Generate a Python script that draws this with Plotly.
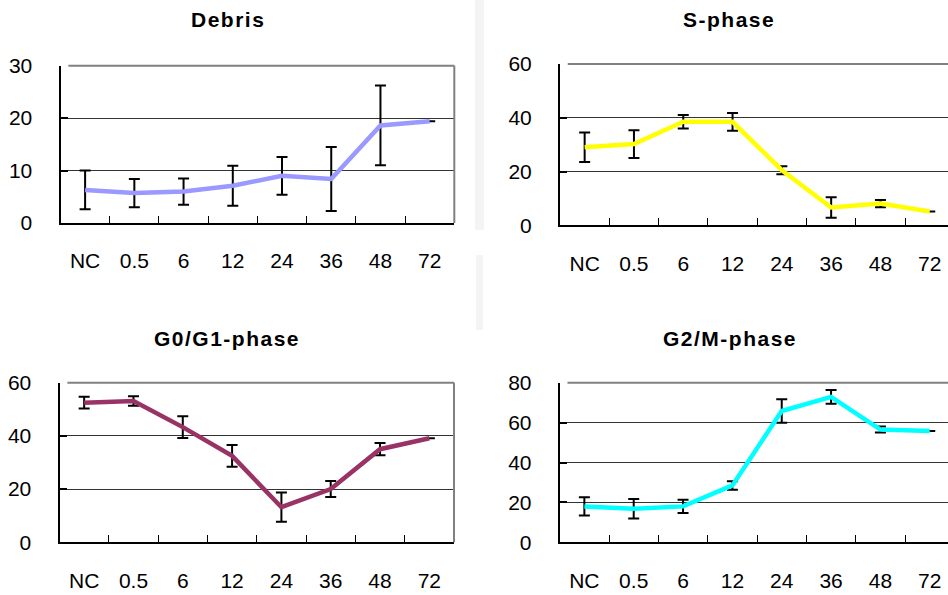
import plotly.graph_objects as go

# Time points (h) and mean percentages with standard deviations per phase
time_labels = ["NC", "0.5", "6", "12", "24", "36", "48", "72"]

debris_mean = [6.3, 5.7, 6.0, 7.1, 9.0, 8.4, 18.6, 19.4]
debris_sd = [3.7, 2.7, 2.5, 3.8, 3.6, 6.1, 7.6, None]

s_mean = [29.0, 30.2, 38.5, 38.5, 20.5, 6.6, 8.1, 5.1]
s_sd = [5.5, 5.2, 2.5, 3.3, 1.5, 3.8, 1.35, None]

g1_mean = [52.5, 53.1, 43.3, 32.5, 13.2, 20.0, 35.0, 39.1]
g1_sd = [2.2, 1.8, 4.1, 4.1, 5.5, 3.0, 2.3, None]

g2_mean = [18.0, 16.8, 18.0, 28.5, 65.8, 72.9, 56.5, 55.8]
g2_sd = [4.6, 4.9, 3.3, 2.1, 5.9, 3.5, 1.5, None]

W, H = 948, 595
FONT = "Liberation Sans, Arial, sans-serif"

panels = [
    # name, mean, sd, color, y max, dtick, x domain px, y domain px (top, bottom), title pos, x max
    ("Debris", debris_mean, debris_sd, "#9999FF", 30, 10, (60.5, 454.3), (65.7, 223.0), (228, 20), 7.5),
    ("S-phase", s_mean, s_sd, "#FFFF00", 60, 20, (560.0, 948.0), (64.0, 225.3), (729, 20), 7.37),
    ("G0/G1-phase", g1_mean, g1_sd, "#993366", 60, 20, (59.5, 454.0), (382.7, 542.3), (227, 338), 7.5),
    ("G2/M-phase", g2_mean, g2_sd, "#00FFFF", 80, 20, (559.7, 948.0), (382.7, 542.3), (730, 338), 7.37),
]

fig = go.Figure()
xs = list(range(len(time_labels)))
shapes = []
annotations = []

for i, (name, mean, sd, color, ymax, dtick, xd, yd, tpos, xmax) in enumerate(panels, start=1):
    xa = "x" if i == 1 else f"x{i}"
    ya = "y" if i == 1 else f"y{i}"
    fig.add_trace(go.Scatter(
        x=xs, y=mean, mode="lines",
        line=dict(color=color, width=4.5),
        error_y=dict(type="data", array=sd, visible=True,
                     color="black", thickness=2, width=5.5),
        xaxis=xa, yaxis=ya, showlegend=False, hoverinfo="skip",
    ))
    xkey = "xaxis" if i == 1 else f"xaxis{i}"
    ykey = "yaxis" if i == 1 else f"yaxis{i}"
    fig.update_layout(**{
        xkey: dict(
            domain=[xd[0] / W, xd[1] / W],
            anchor=ya, range=[-0.5, xmax], automargin=False,
            tickmode="array", tickvals=xs, ticktext=time_labels,
            ticks="", showgrid=False, zeroline=False,
            showline=True, linecolor="black", linewidth=2,
            tickfont=dict(family=FONT, size=21, color="black"),
            ticklabelstandoff=18,
            minor=dict(tickvals=[k + 0.5 for k in range(len(time_labels) - 1)],
                       ticks="inside", ticklen=7, tickcolor="black",
                       tickwidth=1, showgrid=False),
        ),
        ykey: dict(
            domain=[1 - yd[1] / H, 1 - yd[0] / H],
            anchor=xa, range=[0, ymax], dtick=dtick, automargin=False,
            ticks="inside", ticklen=7, tickcolor="black", tickwidth=2,
            showgrid=True, gridcolor="#333333", gridwidth=1,
            zeroline=False, showline=True, linecolor="black", linewidth=2,
            tickfont=dict(family=FONT, size=21, color="black"),
            ticklabelstandoff=22,
        ),
    })
    # grey frame on the top (and right, when visible) of the plot area
    shapes.append(dict(type="line", xref=f"{xa} domain", yref=f"{ya} domain",
                       x0=0.02, x1=1, y0=1, y1=1, layer="above",
                       line=dict(color="#808080", width=2)))
    if xmax >= 7.5:
        shapes.append(dict(type="line", xref=f"{xa} domain", yref=f"{ya} domain",
                           x0=1, x1=1, y0=0, y1=1, layer="above",
                           line=dict(color="#808080", width=2)))
    annotations.append(dict(
        text=f"<b><span style='letter-spacing:1.5px'>{name}</span></b>",
        x=tpos[0] / W, y=1 - tpos[1] / H,
        xref="paper", yref="paper", xanchor="center", yanchor="middle",
        showarrow=False, font=dict(family=FONT, size=21, color="black"),
    ))

# faint grey strip in the background between the columns
shapes.append(dict(type="rect", xref="paper", yref="paper",
                   x0=475 / W, x1=484 / W, y0=1 - 230 / H, y1=1.0,
                   fillcolor="rgba(200,200,200,0.2)", line=dict(width=0), layer="below"))
shapes.append(dict(type="rect", xref="paper", yref="paper",
                   x0=476 / W, x1=483 / W, y0=1 - 330 / H, y1=1 - 255 / H,
                   fillcolor="rgba(200,200,200,0.2)", line=dict(width=0), layer="below"))

fig.update_layout(
    template="none",
    width=W, height=H,
    margin=dict(l=0, r=0, t=0, b=0, autoexpand=False),
    paper_bgcolor="white", plot_bgcolor="white",
    shapes=shapes, annotations=annotations,
    font=dict(family=FONT, color="black"),
)

fig.write_html("out.html", config={"displayModeBar": False})
